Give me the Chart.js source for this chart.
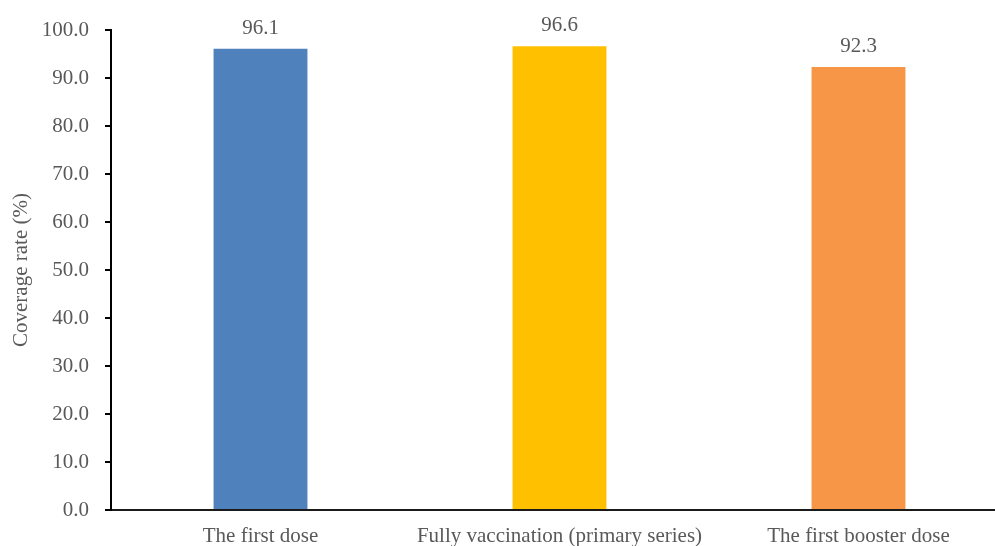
<!DOCTYPE html>
<html>
<head>
<meta charset="utf-8">
<script src="https://cdn.jsdelivr.net/npm/chart.js@4/dist/chart.umd.min.js"></script>
<style>
  html, body { margin: 0; padding: 0; background: #fff; overflow: hidden; }
  #wrap { width: 1013px; height: 546px; position: relative; }
</style>
</head>
<body>
<div id="wrap"><canvas id="c"></canvas></div>
<script>
// Vaccination coverage by dose
const categories = ['The first dose', 'Fully vaccination (primary series)', 'The first booster dose'];
const coverage = [96.1, 96.6, 92.3];
const barColors = ['#4F81BD', '#FFC000', '#F79646'];
const yTicks = [0, 10, 20, 30, 40, 50, 60, 70, 80, 90, 100];

const FONT = '"Liberation Serif", "Times New Roman", serif';
const TEXT = '#595959';

// Writes each bar's value above it
const valueLabels = {
  id: 'valueLabels',
  afterDatasetsDraw(chart) {
    const ctx = chart.ctx;
    const meta = chart.getDatasetMeta(0);
    ctx.save();
    ctx.font = '21px ' + FONT;
    ctx.fillStyle = TEXT;
    ctx.textAlign = 'center';
    ctx.textBaseline = 'alphabetic';
    meta.data.forEach((bar, i) => {
      ctx.fillText(coverage[i].toFixed(1), bar.x, bar.y - 15);
    });
    ctx.restore();
  }
};

new Chart(document.getElementById('c'), {
  type: 'bar',
  data: {
    labels: categories,
    datasets: [{
      data: coverage,
      backgroundColor: barColors,
      borderWidth: 0,
      barPercentage: 1,
      categoryPercentage: 0.314
    }]
  },
  options: {
    responsive: true,
    maintainAspectRatio: false,
    animation: false,
    layout: { padding: { top: 30, left: 9, right: 5, bottom: 0 } },
    plugins: { legend: { display: false }, tooltip: { enabled: false } },
    scales: {
      x: {
        offset: true,
        grid: { display: true, drawOnChartArea: false, drawTicks: false },
        border: { display: true, color: '#1a1a1a', width: 2 },
        ticks: { color: TEXT, font: { family: FONT, size: 21 }, padding: 14, maxRotation: 0 },
        afterFit(scale) { scale.height = 36; }
      },
      y: {
        min: 0,
        max: 100,
        afterBuildTicks(scale) { scale.ticks = yTicks.map(v => ({ value: v })); },
        grid: { display: true, drawOnChartArea: false, drawTicks: true, tickLength: 6, color: '#000', lineWidth: 2 },
        border: { display: true, color: '#000', width: 2 },
        ticks: {
          color: TEXT,
          font: { family: FONT, size: 21 },
          padding: 16,
          callback: v => Number(v).toFixed(1)
        },
        title: {
          display: true,
          text: 'Coverage rate (%)',
          color: TEXT,
          font: { family: FONT, size: 21 },
          padding: { top: 0, bottom: 0 }
        },
        afterFit(scale) { scale.width = 102; }
      }
    }
  },
  plugins: [valueLabels]
});
</script>
</body>
</html>
